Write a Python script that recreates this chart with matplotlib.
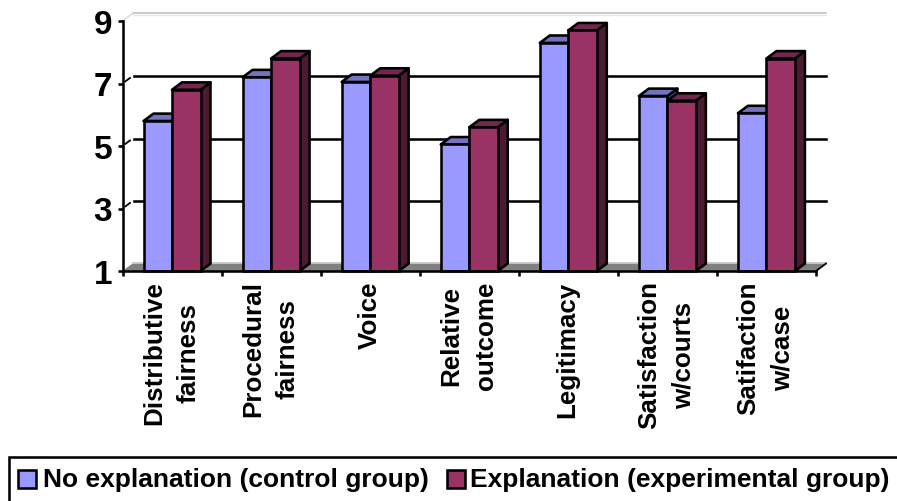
import matplotlib
matplotlib.use("Agg")
import matplotlib.pyplot as plt
from matplotlib.patches import Polygon, Rectangle
from matplotlib.lines import Line2D

categories = ["Distributive\nfairness", "Procedural\nfairness", "Voice", "Relative\noutcome",
              "Legitimacy", "Satisfaction\nw/courts", "Satifaction\nw/case"]
control = [5.8, 7.2, 7.05, 5.05, 8.3, 6.6, 6.05]
experimental = [6.8, 7.8, 7.25, 5.6, 8.7, 6.45, 7.8]
yticks = [1, 3, 5, 7, 9]
series_names = ["No explanation (control group)", "Explanation (experimental group)"]

BLUE, BLUE_TOP = "#9999ff", "#7373bf"
RED, RED_TOP, RED_SIDE = "#993366", "#732650", "#4d1a33"
BLUE_SIDE = "#4d4d80"

plt.rcParams["font.family"] = ["Liberation Sans", "DejaVu Sans"]
plt.rcParams["font.weight"] = "bold"

W, H = 897, 502
fig = plt.figure(figsize=(W / 100, H / 100), dpi=100)
L, R, T, B = 122.5, 816.0, 22.0, 272.0
ax = fig.add_axes([L / W, 1 - B / H, (R - L) / W, (B - T) / H])
ax.set_xlim(0, len(categories))
ax.set_ylim(1, 9)
ax.patch.set_visible(False)

# depth of the pseudo-3D box, in data units
DX = 10 / ((R - L) / len(categories))
DY = 7.4 / ((B - T) / 8)
LW = 1.85
n = len(categories)

# floor and back wall
ax.add_patch(Polygon([(0, 1), (DX, 1 + DY), (n + DX, 1 + DY), (n, 1)], fc="#808080", ec="none", zorder=1, clip_on=False))
ax.add_line(Line2D([DX, n + DX], [1 + DY + 0.03] * 2, color="#c0c0c0", lw=1.2, zorder=1, clip_on=False))
for v in yticks[1:]:
    if v == 9:
        ax.add_line(Line2D([DX, n + DX], [v + DY + 0.02] * 2, color="#c0c0c0", lw=1.2, zorder=1, clip_on=False))
        ax.add_line(Line2D([DX, n + DX], [v + DY - 0.05] * 2, color="#e8e8e8", lw=1.0, zorder=1, clip_on=False))
        ax.add_line(Line2D([0, DX], [v, v + DY], color="#d8d8d8", lw=1.0, zorder=1, clip_on=False))
    else:
        ax.add_line(Line2D([DX + 0.02, n + DX], [v + DY] * 2, color="black", lw=LW, zorder=1, clip_on=False))
        ax.add_line(Line2D([DX * 0.3, DX * 0.75], [v + DY * 0.3, v + DY * 0.75], color="black", lw=1.3, zorder=1, clip_on=False))

# bars, drawn back to front with a top and side face
BAR_W = 28.5 / ((R - L) / n)
GAP = 21 / ((R - L) / n)


def bar(x, v, face, top, side, z):
    ax.add_patch(Polygon([(x + BAR_W, 1), (x + BAR_W + DX, 1 + DY), (x + BAR_W + DX, v + DY), (x + BAR_W, v)],
                         fc=side, ec="black", lw=LW, zorder=z, joinstyle="round", clip_on=False))
    ax.add_patch(Polygon([(x, v), (x + DX, v + DY), (x + BAR_W + DX, v + DY), (x + BAR_W, v)],
                         fc=top, ec="black", lw=LW, zorder=z, joinstyle="round", clip_on=False))
    ax.add_patch(Rectangle((x, 1), BAR_W, v - 1, fc=face, ec="black", lw=LW, zorder=z + 0.1, clip_on=False))


for i, (a, b) in enumerate(zip(control, experimental)):
    bar(i + GAP, a, BLUE, BLUE_TOP, BLUE_SIDE, 2 + i)
    bar(i + GAP + BAR_W, b, RED, RED_TOP, RED_SIDE, 2.3 + i)

# axes
for s in ["top", "right"]:
    ax.spines[s].set_visible(False)
for s in ["left", "bottom"]:
    ax.spines[s].set_linewidth(LW)
    ax.spines[s].set_zorder(20)
ax.add_line(Line2D([n, n + DX], [1, 1 + DY], color="black", lw=1.3, zorder=1, clip_on=False))
ax.set_yticks(yticks)
ax.set_yticklabels([str(v) for v in yticks], fontsize=24, fontweight="bold")
ax.set_xticks(range(n + 1))
ax.set_xticklabels([""] * (n + 1))
ax.tick_params(axis="both", width=LW, length=3.5, pad=4)

for i, c in enumerate(categories):
    ax.annotate(c, (i + 0.5, 1), xytext=(-0.5, -6.8), textcoords="offset points", rotation=90,
                ha="center", va="top", multialignment="center", fontsize=18.7, fontweight="bold",
                linespacing=1.55, annotation_clip=False)

# legend: the frame runs off the right and lower edges of the figure
fig.add_artist(Rectangle((8.5 / W, 1 - 515 / H), 900 / W, 57 / H, transform=fig.transFigure, fc="white", ec="black", lw=LW))
for sx, col, tx, name in [(18, BLUE, 42.5, series_names[0]), (447, RED, 470, series_names[1])]:
    fig.add_artist(Rectangle((sx / W, 1 - 489 / H), 18 / W, 18 / H, transform=fig.transFigure, fc=col, ec="black", lw=LW))
    fig.text(tx / W, 1 - 480 / H, name, fontsize=19, fontweight="bold", va="center", ha="left")

fig.savefig("out.png", dpi=100)
